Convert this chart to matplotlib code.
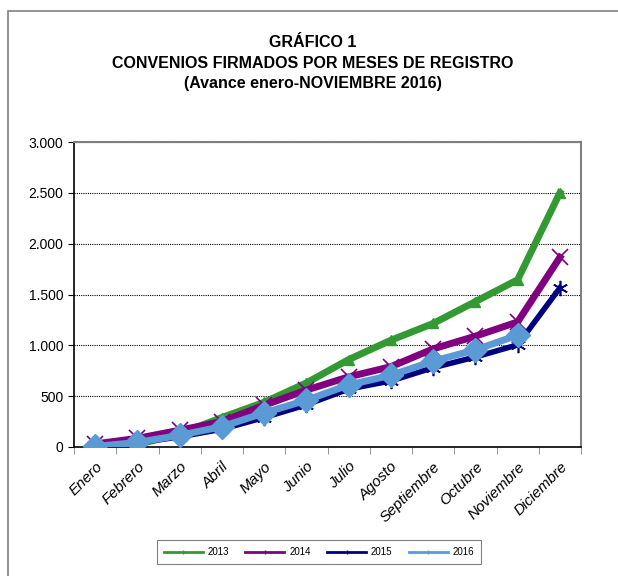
import numpy as np
import matplotlib.pyplot as plt
from matplotlib.patches import Rectangle
from matplotlib.ticker import FuncFormatter

meses = ["Enero", "Febrero", "Marzo", "Abril", "Mayo", "Junio", "Julio",
         "Agosto", "Septiembre", "Octubre", "Noviembre", "Diciembre"]

v2013 = [5, 25, 130, 290, 440, 630, 860, 1050, 1215, 1430, 1645, 2500]
v2014 = [30, 85, 165, 250, 410, 560, 690, 790, 965, 1090, 1230, 1865]
v2015 = [5, 40, 100, 175, 290, 415, 570, 650, 780, 885, 1005, 1565]
v2016 = [5, 45, 115, 200, 335, 460, 610, 705, 845, 955, 1100]

plt.rcParams['font.family'] = ['Liberation Sans', 'DejaVu Sans']

fig = plt.figure(figsize=(6.18, 5.76), dpi=100)
fig.patches.append(Rectangle((8 / 618, -0.1), 1.2, 1 - 11 / 576 + 0.1,
                             transform=fig.transFigure, fill=False,
                             edgecolor='#808080', linewidth=1.2))

ax = fig.add_axes([74 / 618, 1 - 447 / 576, 507 / 618, 305 / 576])
x = np.arange(len(meses))

ax.plot(x, v2013, color='#339933', lw=5, marker='^', ms=7, label='2013', zorder=3)
ax.plot(x, v2014, color='#800080', lw=5, marker='x', ms=11, mew=1.2, label='2014', zorder=4)
ax.plot(x, v2015, color='#000080', lw=4, marker=(6, 2, 0), ms=11, mew=1.2, label='2015', zorder=5)
ax.plot(x[:len(v2016)], v2016, color='#5b9bd5', lw=5, marker='D', ms=12, label='2016', zorder=6)

ax.set_xlim(-0.5, len(meses) - 0.5)
ax.set_ylim(0, 3000)
ax.set_yticks(np.arange(0, 3001, 500))
ax.yaxis.set_major_formatter(FuncFormatter(lambda v, p: f"{int(v):,}".replace(",", ".")))
ax.grid(axis='y', color='black', linestyle=(0, (1, 1)), linewidth=0.8)
ax.set_axisbelow(True)

ax.set_xticks(x)
ax.set_xticklabels(meses, rotation=45, ha='right', rotation_mode='anchor',
                   fontsize=11, style='italic')
ax.set_xticks(np.arange(-0.5, len(meses), 1), minor=True)
ax.tick_params(axis='x', which='major', length=0, pad=9)
ax.tick_params(axis='x', which='minor', length=5, color='#808080')
ax.tick_params(axis='y', labelsize=10, length=4)

for s in ['top', 'right']:
    ax.spines[s].set_color('#808080')
    ax.spines[s].set_linewidth(1.5)
for s in ['left', 'bottom']:
    ax.spines[s].set_color('black')
    ax.spines[s].set_linewidth(1.2)

fig.text(313 / 618, 1 - 63 / 576,
         "GRÁFICO 1\nCONVENIOS FIRMADOS POR MESES DE REGISTRO\n(Avance enero-NOVIEMBRE 2016)",
         ha='center', va='center', fontsize=11.5, fontweight='bold', linespacing=1.45)

handles, labels = ax.get_legend_handles_labels()
leg_handles = [plt.Line2D([], [], color=h.get_color(), lw=2, marker='|', ms=3) for h in handles]
leg = fig.legend(leg_handles, labels, loc='center', ncol=4,
                 bbox_to_anchor=(319 / 618, 1 - 552 / 576), fontsize=7,
                 frameon=True, fancybox=False, edgecolor='#606060',
                 handlelength=4.0, handletextpad=0.5, columnspacing=1.7,
                 borderpad=0.7, borderaxespad=0)
leg.get_frame().set_linewidth(0.8)

fig.savefig('out.png', dpi=100)
